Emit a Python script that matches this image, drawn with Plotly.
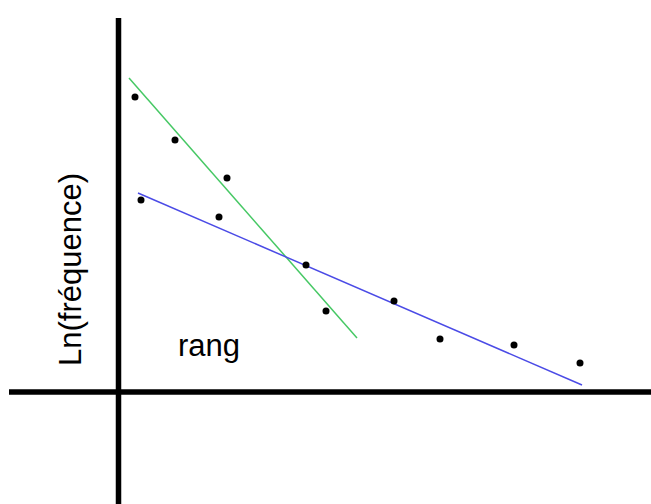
import plotly.graph_objects as go

# Observed points: rank (x) against log-frequency (y), arbitrary units
rang = [16.5, 22.5, 56.5, 100.5, 108.5, 187.5, 207.5, 275.5, 321.5, 395.5, 461.5]
ln_freq = [295, 192, 252, 175, 214, 127, 81, 91, 53, 47, 29]

# Two fitted lines (end points)
fit_steep_x = [10.5, 238.5]
fit_steep_y = [314, 54]
fit_flat_x = [19.5, 463.5]
fit_flat_y = [199, 7]

# Hand-drawn axes through the origin
x_axis_span = [-109.5, 535]
y_axis_span = [-115, 374]

x_range = [-118.5, 532.5]
y_range = [-112, 392]

fig = go.Figure()

fig.add_trace(go.Scatter(x=fit_steep_x, y=fit_steep_y, mode="lines",
                         line=dict(color="#46c864", width=1.5), hoverinfo="skip"))
fig.add_trace(go.Scatter(x=fit_flat_x, y=fit_flat_y, mode="lines",
                         line=dict(color="#4b4be6", width=1.5), hoverinfo="skip"))
fig.add_trace(go.Scatter(x=rang, y=ln_freq, mode="markers",
                         marker=dict(color="black", size=7, line=dict(width=0))))

fig.add_shape(type="line", xref="x", yref="y", x0=x_axis_span[0], x1=x_axis_span[1],
              y0=0, y1=0, line=dict(color="black", width=5.5))
fig.add_shape(type="line", xref="x", yref="y", x0=0, x1=0,
              y0=y_axis_span[0], y1=y_axis_span[1], line=dict(color="black", width=5.5))

font = dict(family="Liberation Sans, Arial, sans-serif", size=31, color="black")
fig.add_annotation(x=-48.5, y=122, xref="x", yref="y", text="Ln(fréquence)",
                   textangle=-90, showarrow=False, font=font,
                   xanchor="center", yanchor="middle")
fig.add_annotation(x=90.5, y=47, xref="x", yref="y", text="rang",
                   showarrow=False, font=font, xanchor="center", yanchor="middle")

fig.update_xaxes(range=x_range, visible=False, fixedrange=True)
fig.update_yaxes(range=y_range, visible=False, fixedrange=True)
fig.update_layout(width=651, height=504, margin=dict(l=0, r=0, t=0, b=0),
                  paper_bgcolor="white", plot_bgcolor="white", showlegend=False)

fig.write_html("out.html")
